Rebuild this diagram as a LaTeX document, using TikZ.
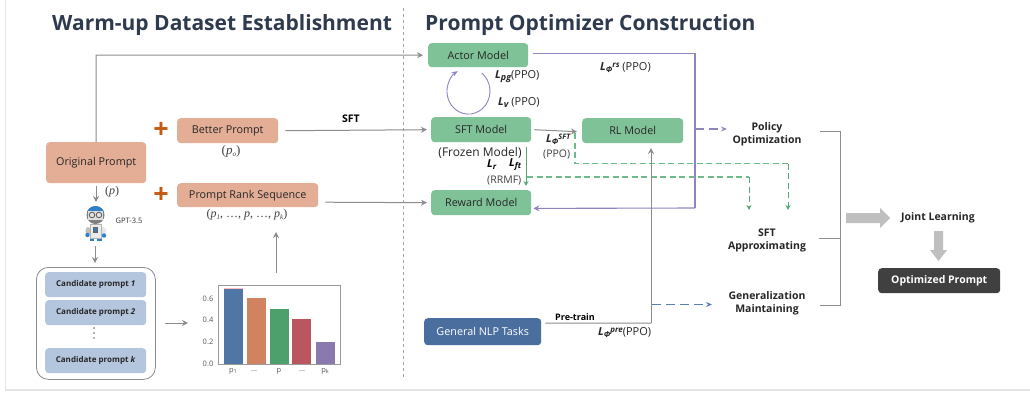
\documentclass[tikz,border=0pt]{standalone}
\usepackage{fontspec}
\setmainfont{Open Sans}
\newfontfamily\serifm{Liberation Serif}
\usetikzlibrary{arrows.meta,calc}
\definecolor{peach}{HTML}{E3AE95}
\definecolor{mint}{HTML}{7FC297}
\definecolor{cand}{HTML}{B4C5DE}
\definecolor{navy}{HTML}{4A6E9E}
\definecolor{titlec}{HTML}{2E3A4E}
\definecolor{purp}{HTML}{9084C0}
\definecolor{dgreen}{HTML}{55A873}
\definecolor{lgreen}{HTML}{6DBB8A}
\definecolor{conn}{HTML}{8C8C8C}
\definecolor{dark}{HTML}{404040}
\definecolor{bluedash}{HTML}{5B7FB0}
\definecolor{orangep}{HTML}{C55A11}
\definecolor{lightb}{HTML}{BFBFBF}
\definecolor{bara}{HTML}{4F76A5}
\definecolor{barb}{HTML}{D0835E}
\definecolor{barc}{HTML}{4D9F6B}
\definecolor{bard}{HTML}{BB5560}
\definecolor{bare}{HTML}{8A79AD}
\definecolor{robblue}{HTML}{2E7FC8}
\tikzset{
 x=1pt,y=-1pt,
 boxn/.style={rounded corners=3.5pt,inner sep=0pt,anchor=north west,font=\fontsize{10.8}{12}\selectfont,text=black!85},
 peachb/.style={boxn,fill=peach},
 mintb/.style={boxn,fill=mint},
 candb/.style={boxn,fill=cand,font=\fontsize{8}{10}\bfseries\selectfont,minimum width=101pt,minimum height=25pt},
 title/.style={font=\fontsize{21}{24}\bfseries\selectfont,text=titlec,anchor=west,inner sep=0pt},
 lab/.style={font=\fontsize{10.5}{12}\selectfont,inner sep=0pt,text=black!75},
 blab/.style={font=\fontsize{10.5}{13}\bfseries\selectfont,inner sep=0pt,align=center,text=black!85},
 math/.style={font=\serifm\fontsize{12}{14}\selectfont,inner sep=0pt,text=black!75},
 lossl/.style={font=\fontsize{11}{13}\bfseries\itshape\selectfont,inner sep=0pt,text=black},
 plabel/.style={font=\fontsize{11}{13}\selectfont,inner sep=0pt,anchor=west,text=black!85},
 ga/.style={draw=conn,line width=1pt,-{Stealth[length=6pt,width=6pt]}},
 gl/.style={draw=conn,line width=1pt},
 pl/.style={draw=purp,line width=1.1pt},
 gd/.style={draw=lgreen,line width=1.1pt,dash pattern=on 6pt off 3.5pt},
 gdv/.style={draw=dgreen,line width=1pt,dash pattern=on 6pt off 3.5pt,-{Stealth[length=5pt,width=5pt]}},
 tickt/.style={font=\fontsize{7.5}{9}\selectfont,inner sep=0pt,text=black!65},
 bigp/.style={font=\fontsize{27}{27}\bfseries\selectfont,text=orangep,inner sep=0pt},
}
\begin{document}
\begin{tikzpicture}
\useasboundingbox (0,0) rectangle (1030,397);
\fill[white] (0,0) rectangle (1030,397);
\draw[black!10,line width=1.5pt] (5.5,0) -- (5.5,390) -- (1030,390);
% titles
\node[title] (t1) at (52,25) {Warm-up Dataset Establishment};
\node[title] (t2) at (425,25) {Prompt Optimizer Construction};
\draw[black!35,dashed,line width=0.7pt] (403,8) -- (403,380);
% left boxes
\node[peachb,minimum width=100pt,minimum height=41pt] (orig) at (46,142) {Original Prompt};
\node[peachb,minimum width=101pt,minimum height=25pt] (better) at (177,118) {Better Prompt};
\node[peachb,minimum width=141pt,minimum height=24pt] (rank) at (177,183) {Prompt Rank Sequence};
\node[bigp] (plus1) at (161,130) {+};
\node[bigp] (plus2) at (161,195) {+};
\node[math,font=\serifm\fontsize{13}{15}\selectfont] (po) at (231,151) {(\textit{p\raisebox{-2pt}{\fontsize{7}{7}\selectfont o}})};
\node[math] (pseq) at (247,215) {(\textit{p\raisebox{-2pt}{\fontsize{7}{7}\selectfont 1}}, …, \textit{p}, …, \textit{p\raisebox{-2pt}{\fontsize{7}{7}\selectfont k}})};
\node[math] (pp) at (112,192) {(\textit{p})};
% robot
\fill[black!35] (91,237) rectangle (94,240);
\fill[black!35] (97,237) rectangle (100,240);
\fill[robblue] (90,239) rectangle (94,241);
\fill[robblue] (97,239) rectangle (102,241);
\fill[black!25] (88,231) ellipse[x radius=2.5,y radius=4];
\fill[black!10] (103,231) ellipse[x radius=3,y radius=4];
\fill[robblue] (87.5,235) circle[radius=2.2];
\fill[robblue] (104,235.5) circle[radius=2.2];
\fill[black!8,draw=black!30,line width=0.3pt] (90,224) rectangle (101,238);
\fill[black!60] (93,227) rectangle (98,233);
\fill[robblue] (94,228) rectangle (97,231);
\fill[black!50] (95.5,215) circle[radius=9];
\begin{scope}
\clip (86,205) rectangle (106,211);
\fill[robblue] (95.5,215) circle[radius=9];
\end{scope}
\fill[black!12] (88,211) rectangle (103,220);
\draw[black!65,line width=0.8pt] (92,215) circle[radius=2.8] (99,215) circle[radius=2.8];
\node[font=\fontsize{7.5}{9}\selectfont,inner sep=0pt,text=black!80] (gpt) at (129,221) {GPT-3.5};
\coordinate (robbot) at (95,246);
% candidate
\node[draw=black!45,fill=white,rounded corners=12pt,line width=0.8pt,minimum width=119pt,minimum height=112pt,inner sep=0pt,anchor=north west] (cbox) at (36,267) {};
\node[candb] (c1) at (45,272) {Candidate prompt \textit{1}};
\node[candb] (c2) at (45,300) {Candidate prompt \textit{2}};
\node[candb] (c3) at (45,348) {Candidate prompt \textit{k}};
\fill[black!60] (94,328) circle[radius=.8] (94,333) circle[radius=.8] (94,338) circle[radius=.8];
% chart
\node[draw=black!40,line width=0.8pt,minimum width=122pt,minimum height=79pt,inner sep=0pt,anchor=north west] (chart) at (218,285) {};
\fill[pink] (224,288) rectangle (243,364);
\fill[bara] (224,289) rectangle (243,364);
\fill[barb] (247,298) rectangle (266,364);
\fill[barc] (270,309) rectangle (289,364);
\fill[bard] (292,319) rectangle (311,364);
\fill[bare] (316,342) rectangle (335,364);
\foreach \v/\y in {0.6/299,0.4/320,0.2/342,0.0/364} \node[tickt] at (208,\y) {\v};
\node[tickt] (x1) at (233,371) {p\raisebox{-1pt}{\fontsize{5.5}{6}\selectfont 1}};
\node[tickt] (x2) at (254,371) {...};
\node[tickt] (x3) at (279,371) {p};
\node[tickt] (x4) at (302,371) {...};
\node[tickt] (x5) at (325,371) {p\raisebox{-1pt}{\fontsize{5.5}{6}\selectfont k}};
% models
\node[mintb,minimum width=100pt,minimum height=24pt] (actor) at (428,43) {Actor Model};
\node[mintb,minimum width=100pt,minimum height=25pt] (sftm) at (431,117) {SFT Model};
\node[mintb,minimum width=100pt,minimum height=25pt] (reward) at (431,190) {Reward Model};
\node[mintb,minimum width=101pt,minimum height=25pt] (rl) at (582,118) {RL Model};
\node[boxn,fill=navy,text=white,minimum width=117pt,minimum height=27pt] (nlp) at (424,318) {General NLP Tasks};
% left connectors
\draw[ga] (orig.north) -- (96,55) -- ([xshift=-5pt]actor.west);
\draw[ga] (96,186) -- (96,202);
\draw[ga] (robbot) -- (95,263);
\draw[ga] (165,323) -- (188,323);
\draw[ga] (276,273) -- (276,232);
\draw[ga] ([xshift=7pt]better.east) -- ([xshift=-4pt]sftm.west);
\draw[ga] ([xshift=7pt,yshift=-7pt]rank.east) -- ([xshift=-4pt]reward.west);
\node[font=\fontsize{10.5}{12}\bfseries\selectfont,inner sep=0pt] (sft) at (351,119) {SFT};
% loop
\draw[draw=purp,line width=0.9pt,-{Stealth[length=6pt,width=5pt]}] (481.7,73) arc[start angle=-52,end angle=240,x radius=21.5,y radius=23];
% labels
\node[plabel] (lpg) at (495,77) {\textbf{\textit{L\raisebox{-2pt}{\fontsize{9}{9}\selectfont pg}}}(PPO)};
\node[plabel] (lv) at (498,103) {\textbf{\textit{L\raisebox{-2pt}{\fontsize{9}{9}\selectfont v}}} (PPO)};
\node[plabel] (lfa) at (600,68) {\textbf{\textit{L\raisebox{-2pt}{\fontsize{8}{8}\selectfont Φ}\raisebox{3pt}{\fontsize{8}{8}\selectfont rs}}} (PPO)};
\node[plabel] (lsft) at (546,139) {\textbf{\textit{L\raisebox{-2pt}{\fontsize{8}{8}\selectfont Φ}\raisebox{3pt}{\fontsize{7.5}{8}\selectfont SFT}}}};
\node[lab,anchor=west] (ppo2) at (543,155) {(PPO)};
\node[font=\fontsize{12}{14}\selectfont,inner sep=0pt,text=black!85] (frozen) at (480,153) {(Frozen Model)};
\node[lossl,anchor=west] (lr) at (487,165) {L\raisebox{-2pt}{\fontsize{8}{8}\selectfont r}};
\node[lossl,anchor=west] (lft) at (509,165) {L\raisebox{-2pt}{\fontsize{8}{8}\selectfont ft}};
\node[lab,anchor=west] (rrmf) at (487,181) {(RRMF)};
\node[font=\fontsize{9}{10}\bfseries\selectfont,inner sep=0pt,anchor=west] (pre) at (555,317) {Pre-train};
\node[plabel] (lpre) at (598,333) {\textbf{\textit{L\raisebox{-2pt}{\fontsize{8}{8}\selectfont Φ}\raisebox{3pt}{\fontsize{8}{8}\selectfont pre}}}(PPO)};
% right labels
\node[blab] (policy) at (767,134) {Policy\\Optimization};
\node[blab] (sfta) at (767,240) {SFT\\Approximating};
\node[blab] (gen) at (767,303) {Generalization\\Maintaining};
\node[blab] (joint) at (938,218) {Joint Learning};
\node[boxn,fill=dark,text=white,minimum width=122pt,minimum height=25pt,font=\fontsize{10.5}{12}\bfseries\selectfont] (opt) at (878,268) {Optimized Prompt};
% model connectors
\draw[pl] ([xshift=5pt,yshift=2pt]actor.east) -| (695,208);
\draw[pl,-{Stealth[length=6pt,width=6pt]}] (695,208) -- ([xshift=2pt,yshift=7pt]reward.south east);
\draw[pl,dash pattern=on 9pt off 5pt,-{Stealth[length=6pt,width=5pt]}] (695,129) -- (727,129);
\draw[ga] ([xshift=3pt]sftm.east) -- ([xshift=-5pt,yshift=-1pt]rl.west);
\draw[draw=dgreen,line width=1pt,-{Stealth[length=5pt,width=5pt]}] (526,147) -- (526,186);
\draw[gd] (575,133) -- (575,163.5) -- (788,163.5);
\draw[gdv] (788,163.5) -- (788,210);
\draw[gd] (527,177) -- (749,177);
\draw[gdv] (749,177) -- (749,210);
\draw[gl] ([xshift=4pt,yshift=8.5pt]nlp.east) -- (651,323);
\draw[ga] (651,323) -- (651,148);
\draw[draw=bluedash,line width=1pt,dash pattern=on 9pt off 5pt,-{Stealth[length=6pt,width=5pt]}] (652,304.5) -- (712,304.5);
% bracket
\draw[draw=conn,line width=1pt] (820,131) -- (840,131) -- (840,305) -- (820,305);
\draw[draw=conn,line width=1pt] (819,238) -- (840,238);
% block arrows
\fill[lightb] (846,213) -- (880,213) -- (880,208) -- (890,218) -- (880,228) -- (880,223) -- (846,223) -- cycle;
\fill[lightb] (934,231) -- (943,231) -- (943,250) -- (947,250) -- (938.5,261) -- (930,250) -- (934,250) -- cycle;
\end{tikzpicture}
\end{document}
